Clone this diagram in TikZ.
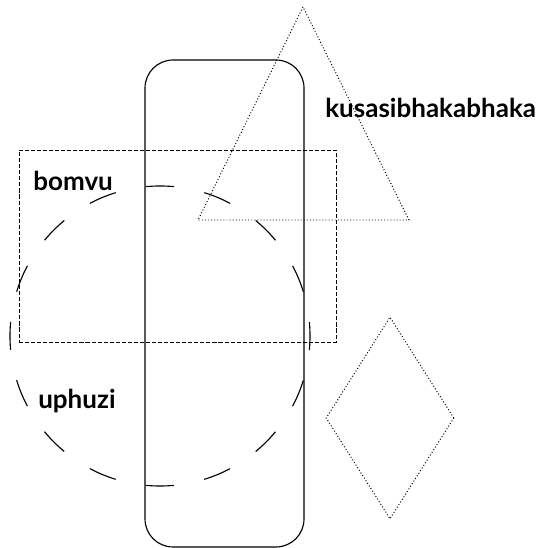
\documentclass[tikz,border=0pt]{standalone}
\usepackage{fontspec}
\setmainfont{Lato}
\usetikzlibrary{shapes.geometric}

\begin{document}
\begin{tikzpicture}[
  pillbox/.style={
    rectangle, draw, line width=0.8pt, rounded corners=0.7cm,
    minimum width=3.975cm, minimum height=12.175cm, inner sep=0pt
  },
  framebox/.style={
    rectangle, draw, line width=0.7pt, dash pattern=on 2.9pt off 1.4pt,
    minimum width=7.925cm, minimum height=4.8cm, inner sep=0pt
  },
  ring/.style={
    circle, draw, line width=0.8pt, dash pattern=on 19.9pt off 22pt,
    dash phase=9.95pt, minimum size=7.5cm, inner sep=0pt
  },
  kite/.style={
    diamond, draw, line width=0.7pt, dash pattern=on 0.7pt off 1.5pt,
    minimum width=3.2cm, minimum height=5.05cm, inner sep=0pt
  },
  tri/.style={draw, line width=0.7pt, dash pattern=on 0.7pt off 1.5pt},
  lbl/.style={anchor=base west, inner sep=0pt, font=\fontsize{18.5}{22}\selectfont\bfseries}
]
\useasboundingbox (0,0) rectangle (13.5,13.7);

% --- Shapes
\node[pillbox]  (pill)  at (5.6125, 6.1125) {};
\node[framebox] (frame) at (4.4375, 7.55)   {};
\node[ring]     (ring)  at (4.0, 5.3)       {};
\node[kite]     (kite)  at (9.75, 3.25)     {};

% --- Triangle (dotted)
\coordinate (apex)  at (7.575, 13.525);
\coordinate (baseL) at (4.95, 8.2);
\coordinate (baseR) at (10.225, 8.2);
\draw[tri] (apex) -- (baseL) -- (baseR) -- cycle;

% --- Labels
\node[lbl] (kusa)   at (8.125, 10.75) {kusasibhakabhaka};
\node[lbl] (bomvu)  at (0.825, 8.93)  {bomvu};
\node[lbl] (uphuzi) at (0.95, 3.475)  {uphuzi};

\end{tikzpicture}
\end{document}
